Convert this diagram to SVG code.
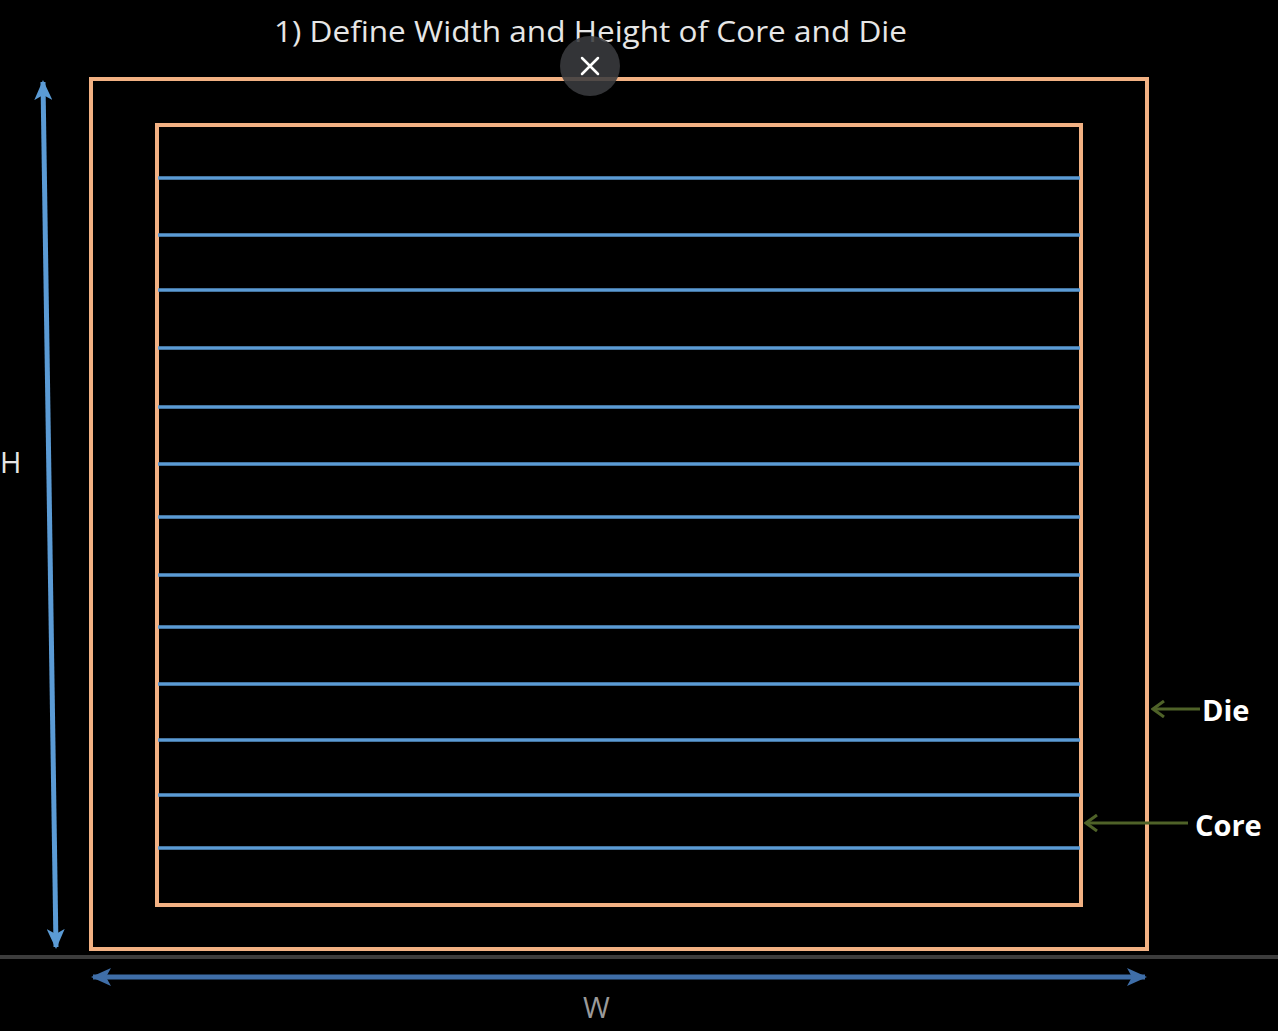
<svg xmlns="http://www.w3.org/2000/svg" width="1278" height="1031" viewBox="0 0 1278 1031">
  <defs>
    <style>
      .frame { fill: none; stroke: #f2b183; stroke-width: 4; }
      .row { stroke: #5b9bd5; stroke-width: 3.5; }
      .dim { fill: none; stroke-width: 5; }
      .lbl { fill: #ffffff; font-family: "Open Sans", "Liberation Sans", sans-serif; font-weight: bold; font-size: 29px; }
      .ptr { stroke: #4f6228; stroke-width: 3; fill: none; }
    </style>
    <marker id="hv" viewBox="0 0 20 18" refX="18" refY="9" markerWidth="20" markerHeight="18" markerUnits="userSpaceOnUse" orient="auto-start-reverse">
      <path d="M0,0 L20,9 L0,18 L5,9 z" fill="#5b9bd5"/>
    </marker>
    <marker id="hw" viewBox="0 0 20 18" refX="18" refY="9" markerWidth="20" markerHeight="18" markerUnits="userSpaceOnUse" orient="auto-start-reverse">
      <path d="M0,0 L20,9 L0,18 L5,9 z" fill="#3f6ea8"/>
    </marker>
    <marker id="hg" viewBox="0 0 14 18" refX="12" refY="9" markerWidth="14" markerHeight="18" markerUnits="userSpaceOnUse" orient="auto">
      <path d="M1,1 L12,9 L1,17" fill="none" stroke="#4f6228" stroke-width="3"/>
    </marker>
  </defs>
  <rect x="0" y="0" width="1278" height="1031" fill="#000000"/>

  <text x="274" y="42" font-family="Open Sans, Liberation Sans, sans-serif" font-size="30" fill="#e6e6e6" textLength="633" lengthAdjust="spacingAndGlyphs">1) Define Width and Height of Core and Die</text>

  <g id="die">
    <rect class="frame" x="91" y="79" width="1056" height="870"/>
  </g>
  <g id="core">
    <rect class="frame" x="157" y="125" width="924" height="780"/>
    <g id="rows">
      <line class="row" x1="158" y1="178" x2="1080" y2="178"/>
      <line class="row" x1="158" y1="235" x2="1080" y2="235"/>
      <line class="row" x1="158" y1="290" x2="1080" y2="290"/>
      <line class="row" x1="158" y1="348" x2="1080" y2="348"/>
      <line class="row" x1="158" y1="407" x2="1080" y2="407"/>
      <line class="row" x1="158" y1="464" x2="1080" y2="464"/>
      <line class="row" x1="158" y1="517" x2="1080" y2="517"/>
      <line class="row" x1="158" y1="575" x2="1080" y2="575"/>
      <line class="row" x1="158" y1="627" x2="1080" y2="627"/>
      <line class="row" x1="158" y1="684" x2="1080" y2="684"/>
      <line class="row" x1="158" y1="740" x2="1080" y2="740"/>
      <line class="row" x1="158" y1="795" x2="1080" y2="795"/>
      <line class="row" x1="158" y1="848" x2="1080" y2="848"/>
    </g>
  </g>

  <rect x="0" y="955" width="1278" height="4" fill="#3c3c3c"/>

  <g id="connectors">
    <line class="dim" x1="43" y1="82" x2="56" y2="947" stroke="#5b9bd5" marker-start="url(#hv)" marker-end="url(#hv)"/>
    <line class="dim" x1="93" y1="977" x2="1145" y2="977" stroke="#3f6ea8" marker-start="url(#hw)" marker-end="url(#hw)"/>
    <line class="ptr" x1="1200" y1="709" x2="1153" y2="709" marker-end="url(#hg)"/>
    <line class="ptr" x1="1188" y1="823" x2="1086" y2="823" marker-end="url(#hg)"/>
  </g>

  <g id="label-h">
    <text x="0" y="473" font-family="Open Sans, Liberation Sans, sans-serif" font-size="29" fill="#e6e6e6">H</text>
  </g>
  <g id="label-w">
    <text x="583" y="1018" font-family="Open Sans, Liberation Sans, sans-serif" font-size="29" fill="#9a9a9a">W</text>
  </g>
  <g id="label-die">
    <text class="lbl" x="1202" y="721">Die</text>
  </g>
  <g id="label-core">
    <text class="lbl" x="1195" y="836">Core</text>
  </g>

  <g id="close-button">
    <circle cx="590" cy="66" r="30" fill="#3a3b3f" fill-opacity="0.88"/>
    <path d="M582,58 L598,74 M598,58 L582,74" stroke="#ffffff" stroke-width="2.5" stroke-linecap="round"/>
  </g>
</svg>
